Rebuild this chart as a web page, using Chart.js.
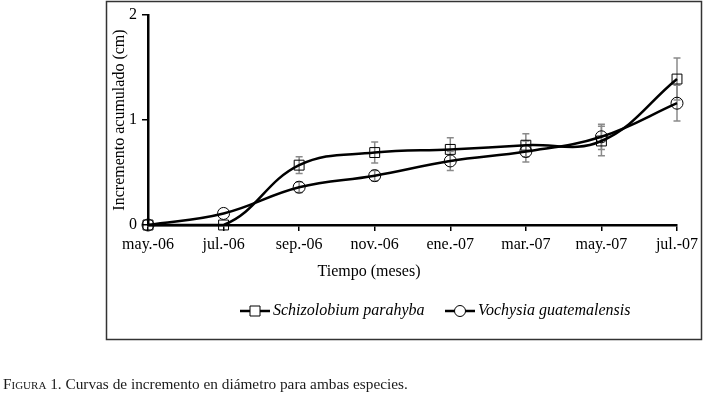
<!DOCTYPE html>
<html>
<head>
<meta charset="utf-8">
<script src="https://cdn.jsdelivr.net/npm/chart.js@4.4.0/dist/chart.umd.min.js"></script>
<style>
  body { margin: 0; background: #fff; }
  #wrap { position: relative; width: 708px; height: 397px; }
  #caption {
    position: absolute; left: 3px; top: 375px;
    font: 15.3px 'Liberation Serif', serif; color: #1a1a1a; white-space: nowrap;
  }
  #caption .sc { font-variant: small-caps; }
</style>
</head>
<body>
<div id="wrap">
  <canvas id="chart" width="708" height="397"></canvas>
  <div id="caption"><span class="sc">Figura</span> 1. Curvas de incremento en diámetro para ambas especies.</div>
</div>
<script>
// meses de medición
const months = ['may.-06', 'jul.-06', 'sep.-06', 'nov.-06', 'ene.-07', 'mar.-07', 'may.-07', 'jul.-07']

// incremento acumulado (cm) y error
const schizolobium = [0, 0, 0.57, 0.69, 0.72, 0.76, 0.80, 1.39]
const schizolobiumErr = [0, 0, 0.08, 0.10, 0.11, 0.11, 0.14, 0.20]
const vochysia = [0, 0.11, 0.36, 0.47, 0.61, 0.70, 0.84, 1.16]
const vochysiaErr = [0, 0, 0.05, 0.05, 0.09, 0.10, 0.12, 0.17]

const yTicks = [0, 1, 2]

const xTitle = 'Tiempo (meses)'

const serif = "'Liberation Serif', 'Times New Roman', serif"

// barras de error (gris) detras de las curvas
const errorBars = {
  id: 'errorBars',
  beforeDatasetsDraw (chart) {
    const ctx = chart.ctx
    const x = chart.scales.x
    const y = chart.scales.y
    ctx.save()
    ctx.strokeStyle = '#8a8a8a'
    ctx.lineWidth = 1.5
    chart.data.datasets.forEach((ds) => {
      ds.data.forEach((v, i) => {
        const e = ds.errors[i]
        if (!e) return
        const px = x.getPixelForValue(i)
        const top = y.getPixelForValue(v + e)
        const bot = y.getPixelForValue(v - e)
        ctx.beginPath()
        ctx.moveTo(px, top); ctx.lineTo(px, bot)
        ctx.moveTo(px - 3.5, top); ctx.lineTo(px + 3.5, top)
        ctx.moveTo(px - 3.5, bot); ctx.lineTo(px + 3.5, bot)
        ctx.stroke()
      })
    })
    ctx.restore()
  }
}

// marco exterior, titulo del eje x y leyenda con linea + marcador
const frameAndLegend = {
  id: 'frameAndLegend',
  afterDraw (chart) {
    const ctx = chart.ctx
    ctx.save()
    ctx.strokeStyle = '#333'
    ctx.lineWidth = 1.5
    ctx.strokeRect(106.5, 1.5, 595, 338)

    ctx.fillStyle = '#000'
    ctx.font = '16px ' + serif
    ctx.textAlign = 'center'
    ctx.textBaseline = 'middle'
    ctx.fillText(xTitle, 369, 272)

    const items = [
      { x: 240, ds: chart.data.datasets[0] },
      { x: 445, ds: chart.data.datasets[1] }
    ]
    const ly = 311
    ctx.font = 'italic 16px ' + serif
    ctx.textAlign = 'left'
    items.forEach((it) => {
      ctx.strokeStyle = '#000'
      ctx.lineWidth = 2.5
      ctx.beginPath()
      ctx.moveTo(it.x, ly); ctx.lineTo(it.x + 30, ly)
      ctx.stroke()
      ctx.lineWidth = 1
      ctx.fillStyle = '#fff'
      ctx.beginPath()
      if (it.ds.pointStyle === 'rect') {
        ctx.rect(it.x + 10, ly - 5, 10, 10)
      } else {
        ctx.arc(it.x + 15, ly, 5.5, 0, Math.PI * 2)
      }
      ctx.fill(); ctx.stroke()
      ctx.fillStyle = '#000'
      ctx.fillText(it.ds.label, it.x + 33, ly)
    })
    ctx.restore()
  }
}

const data = {
  labels: months,
  datasets: [
    {
      label: 'Schizolobium parahyba',
      data: schizolobium,
      errors: schizolobiumErr,
      pointStyle: 'rect',
      pointRadius: 7,
      pointBackgroundColor: 'rgba(255,255,255,0)',
      pointBorderColor: '#000',
      pointBorderWidth: 1,
      borderColor: '#000',
      borderWidth: 2.5,
      tension: 0.4,
      clip: false
    },
    {
      label: 'Vochysia guatemalensis',
      data: vochysia,
      errors: vochysiaErr,
      pointStyle: 'circle',
      pointRadius: 6,
      pointBackgroundColor: 'rgba(255,255,255,0)',
      pointBorderColor: '#000',
      pointBorderWidth: 1,
      borderColor: '#000',
      borderWidth: 2.5,
      tension: 0.4,
      clip: false
    }
  ]
}

const options = {
  responsive: false,
  animation: false,
  layout: { padding: { left: 106, right: 31, top: 15, bottom: 112 } },
  plugins: { legend: { display: false }, tooltip: { enabled: false } },
  scales: {
    x: {
      type: 'category',
      offset: false,
      afterFit (scale) { scale.height = 60 },
      grid: { display: true, drawOnChartArea: false, drawTicks: true, tickLength: 6, color: '#000', lineWidth: 1.5 },
      border: { color: '#000', width: 2.5 },
      ticks: { color: '#000', font: { family: serif, size: 16 }, padding: 4, maxRotation: 0, autoSkip: false }
    },
    y: {
      min: 0,
      max: 2,
      afterFit (scale) { scale.width = 42 },
      afterBuildTicks (scale) { scale.ticks = yTicks.map((v) => ({ value: v })) },
      grid: { display: true, drawOnChartArea: false, drawTicks: true, tickLength: 6, color: '#000', lineWidth: 1.5 },
      border: { color: '#000', width: 2.5 },
      ticks: { color: '#000', font: { family: serif, size: 16 }, padding: 5 },
      title: { display: true, text: 'Incremento acumulado (cm)', color: '#000', font: { family: serif, size: 16 }, padding: { top: 4, bottom: 0 } }
    }
  }
}

new Chart(document.getElementById('chart').getContext('2d'), {
  type: 'line',
  data,
  options,
  plugins: [errorBars, frameAndLegend]
})
</script>
</body>
</html>
